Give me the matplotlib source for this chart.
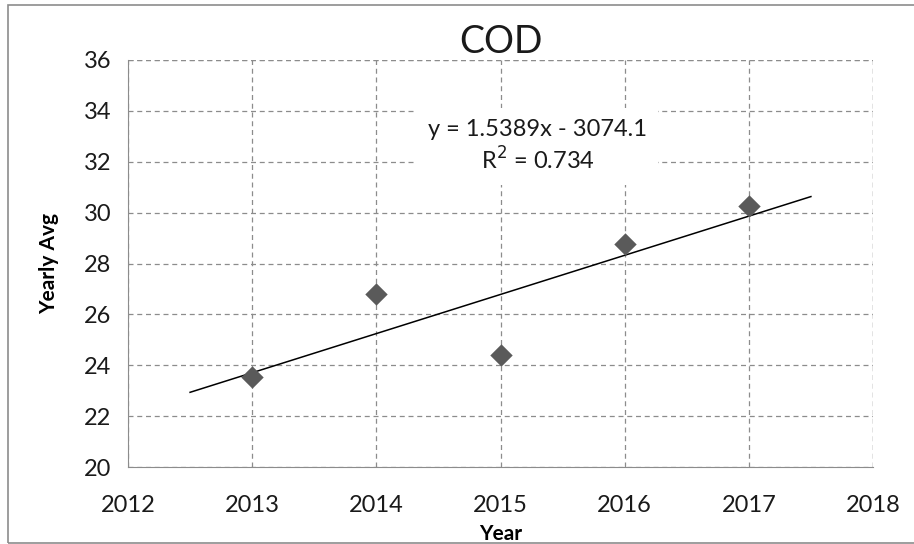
import matplotlib.pyplot as plt
import numpy as np

plt.rcParams['font.family'] = ['Lato', 'DejaVu Sans']

years = [2013, 2014, 2015, 2016, 2017]
cod_avg = [23.55, 26.8, 24.4, 28.75, 30.25]

# trendline as printed on the chart
slope = 1.5389
intercept = -3074.1
r2 = 0.734
trend_x = [2012.5, 2017.5]

fig = plt.figure(figsize=(9.14, 5.44), dpi=100)
ax = fig.add_axes([128/914, 1 - 467/544, 745/914, 407/544])

tx = np.array(trend_x)
ax.plot(tx, slope*tx + intercept, color='black', lw=1.1, zorder=3)
ax.scatter(years, cod_avg, marker='D', s=130, color='#5a5a5a', zorder=4, linewidths=0)

ax.set_xlim(2012, 2018)
ax.set_ylim(20, 36)
ax.set_xticks(range(2012, 2019))
ax.set_yticks(range(20, 37, 2))
ax.grid(True, color='#8c8c8c', linestyle=(0, (4, 3)), lw=0.9)
ax.set_axisbelow(True)
for s in ['top', 'right']:
    ax.spines[s].set_visible(False)
for s in ['left', 'bottom']:
    ax.spines[s].set_color('#8c8c8c')
ax.tick_params(length=0, labelsize=17, colors='#1a1a1a')
ax.tick_params(axis='y', pad=12)
ax.tick_params(axis='x', pad=20)
# top and right edges drawn as dashed grid
ax.axhline(36, color='#8c8c8c', linestyle=(0, (4, 3)), lw=0.9, zorder=1)
ax.axvline(2018, color='#8c8c8c', linestyle=(0, (4, 3)), lw=0.9, zorder=1)

ax.set_title('COD', fontsize=27, pad=4, color='#1a1a1a')
ax.set_xlabel('Year', fontsize=15, fontweight='bold', labelpad=6)
ax.set_ylabel('Yearly Avg', fontsize=15, fontweight='bold', labelpad=18)

ax.text(2015.3, 32.6, 'y = 1.5389x - 3074.1\nR$^2$ = 0.734', fontsize=17,
        ha='center', va='center', linespacing=1.25, color='#1a1a1a',
        bbox=dict(facecolor='white', edgecolor='none', pad=8), zorder=5)

fig.patches.append(plt.Rectangle((8/914, 0.002), 1.2, 1 - 0.002 - 5/544,
                                 transform=fig.transFigure, fill=False,
                                 edgecolor='#8c8c8c', lw=1.2))

fig.savefig('out.png', dpi=100)
